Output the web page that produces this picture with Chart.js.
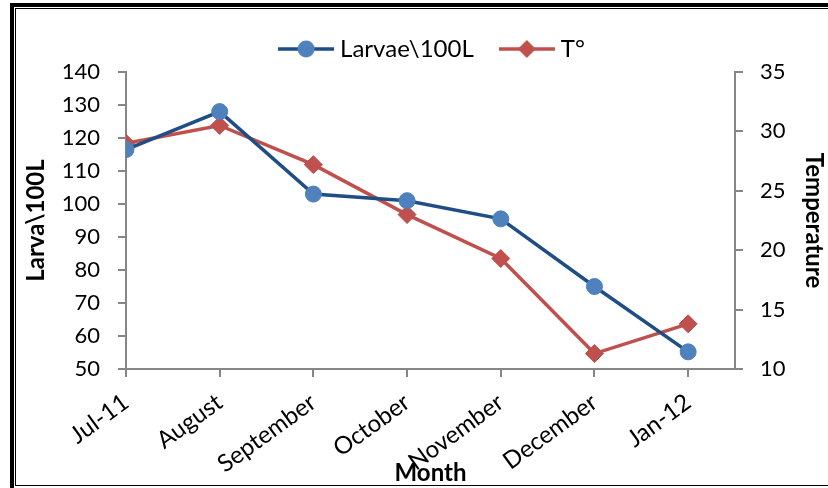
<!DOCTYPE html>
<html>
<head>
<meta charset="utf-8">
<script src="https://cdn.jsdelivr.net/npm/chart.js@4.4.1/dist/chart.umd.min.js"></script>
<style>
  html, body { margin: 0; padding: 0; background: #fff; overflow: hidden; }
  #wrap { position: relative; width: 828px; height: 488px; overflow: hidden; }
  #outer { position: absolute; left: 10px; top: 3px; width: 860px; height: 520px; border: 4px solid #000; box-sizing: border-box; }
  #inner { position: absolute; left: 15px; top: 8px; width: 860px; height: 478px; border: 1px solid #000; box-sizing: border-box; }
  canvas { position: absolute; left: 0; top: 0; }
  .f { pointer-events: none; z-index: 2; }
</style>
</head>
<body>
<div id="wrap">
  <canvas id="c" width="828" height="488"></canvas>
  <div id="outer" class="f"></div>
  <div id="inner" class="f"></div>
</div>
<script>
// values
var months = ["Jul-11", "August", "September", "October", "November", "December", "Jan-12"];
var larvae = [116.5, 128, 103, 101, 95.5, 75, 55.2];
var temperature = [29.0, 30.5, 27.2, 23.0, 19.3, 11.3, 13.8];

var blueLine = "#1F4E85", blueDot = "#4F81BD";
var redLine = "#C0504D", redDot = "#C0504D";
var axisGrey = "#868686";
var font = "Lato, 'Liberation Sans', sans-serif";

function toPoints(arr) {
  return arr.map(function(v, i) { return {x: i, y: v}; });
}

// legend icon: short line with the marker in the middle
function legendIcon(line, dot, shape) {
  var c = document.createElement("canvas");
  c.width = 56; c.height = 20;
  var g = c.getContext("2d");
  g.strokeStyle = line; g.lineWidth = 3.5;
  g.beginPath(); g.moveTo(0, 10); g.lineTo(56, 10); g.stroke();
  g.fillStyle = dot;
  g.beginPath();
  if (shape === "circle") {
    g.arc(28, 10, 8.5, 0, Math.PI * 2);
  } else {
    g.moveTo(28, 1); g.lineTo(37, 10); g.lineTo(28, 19); g.lineTo(19, 10); g.closePath();
  }
  g.fill();
  return c;
}
var icons = [legendIcon(blueLine, blueDot, "circle"), legendIcon(redLine, redDot, "diamond")];

// nudge the legend to where the original has it
var nudgeLegend = {
  id: "nudgeLegend",
  afterLayout: function(ch) {
    var l = ch.legend;
    l.top -= 1; l.bottom -= 1;
    l.left += 4; l.right += 4;
  }
};

var chart = new Chart(document.getElementById("c"), {
  type: "line",
  plugins: [nudgeLegend],
  data: {
    datasets: [{
      label: "Larvae\\100L",
      data: toPoints(larvae),
      yAxisID: "y",
      borderColor: blueLine,
      borderWidth: 3.5,
      pointStyle: "circle",
      pointRadius: 8,
      pointBackgroundColor: blueDot,
      pointBorderColor: blueDot,
      pointBorderWidth: 1
    }, {
      label: "T°",
      data: toPoints(temperature),
      yAxisID: "y1",
      borderColor: redLine,
      borderWidth: 3.5,
      pointStyle: "rectRot",
      pointRadius: 9,
      pointBackgroundColor: redDot,
      pointBorderColor: redDot,
      pointBorderWidth: 1
    }]
  },
  options: {
    responsive: false,
    animation: false,
    layout: { padding: { top: 7, left: 0, right: 0, bottom: 0 } },
    plugins: {
      tooltip: { enabled: false },
      legend: {
        position: "top",
        fullSize: false,
        labels: {
          usePointStyle: true,
          pointStyleWidth: 44,
          padding: 31,
          color: "#000",
          font: { family: font, size: 24 },
          generateLabels: function(ch) {
            var items = Chart.defaults.plugins.legend.labels.generateLabels(ch);
            items.forEach(function(it, i) { it.pointStyle = icons[i]; });
            return items;
          }
        }
      }
    },
    scales: {
      x: {
        type: "linear",
        min: 0,
        max: 6.5,
        afterBuildTicks: function(s) {
          s.ticks = s.ticks.filter(function(t) { return Number.isInteger(t.value); });
        },
        afterFit: function(s) { s.height = 119; },
        ticks: {
          stepSize: 1,
          autoSkip: false,
          minRotation: 36,
          maxRotation: 36,
          padding: 11,
          color: "#000",
          font: { family: font, size: 24 },
          callback: function(v) { return months[v]; }
        },
        grid: { drawOnChartArea: false, drawTicks: true, tickLength: 8, color: axisGrey, lineWidth: 2 },
        border: { display: true, color: axisGrey, width: 2 },
        title: {
          display: true,
          text: "Month",
          color: "#000",
          font: { family: font, size: 24, weight: "bold" },
          padding: { top: 8, bottom: 0 }
        }
      },
      y: {
        position: "left",
        min: 50,
        max: 140,
        afterFit: function(s) { s.width = 126; },
        ticks: { stepSize: 10, padding: 18, color: "#000", font: { family: font, size: 22 } },
        grid: { drawOnChartArea: false, drawTicks: true, tickLength: 8, color: axisGrey, lineWidth: 2 },
        border: { display: true, color: axisGrey, width: 2 },
        title: {
          display: true,
          text: "Larva\\100L",
          color: "#000",
          font: { family: font, size: 24, weight: "bold" },
          padding: { top: 22, bottom: 0 }
        }
      },
      y1: {
        position: "right",
        min: 10,
        max: 35,
        afterFit: function(s) { s.width = 93; },
        ticks: { stepSize: 5, padding: 17, color: "#000", font: { family: font, size: 22 } },
        grid: { drawOnChartArea: false, drawTicks: true, tickLength: 8, color: axisGrey, lineWidth: 2 },
        border: { display: true, color: axisGrey, width: 2 },
        title: {
          display: true,
          text: "Temperature",
          color: "#000",
          font: { family: font, size: 24, weight: "bold" },
          padding: { top: 0, bottom: 0 }
        }
      }
    }
  }
});
</script>
</body>
</html>
